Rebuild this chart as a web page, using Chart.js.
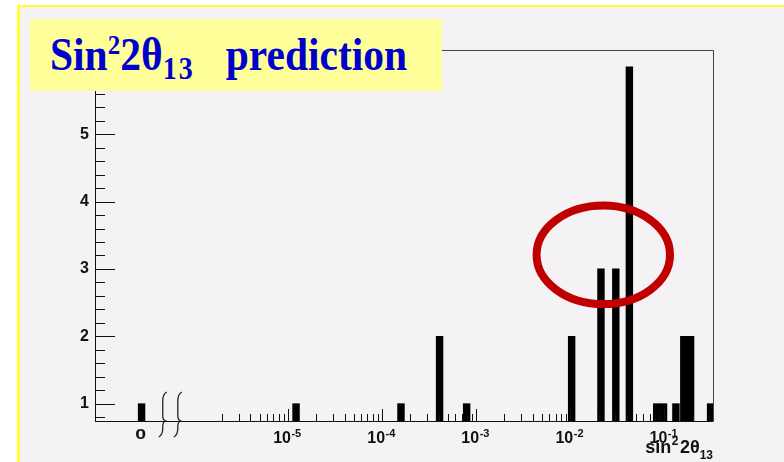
<!DOCTYPE html>
<html>
<head>
<meta charset="utf-8">
<script src="https://cdn.jsdelivr.net/npm/chart.js@4.4.1/dist/chart.umd.min.js"></script>
<style>
  html, body { margin: 0; padding: 0; background: #ffffff; }
  #sheet {
    position: absolute; left: 17px; top: 5px; width: 767px; height: 457px;
    border-left: 3px solid #ffff33; border-top: 2px solid #ffff33;
    background: #f5f2f5; box-sizing: border-box;
  }
  #plot { position: absolute; left: 0; top: 0; }
  #title {
    position: absolute; left: 30px; top: 19px; width: 412px; height: 72px;
    background: #ffff99;
  }
  #title .t {
    position: absolute; left: 20px; top: 17px; white-space: nowrap;
    font: bold 41.5px "Liberation Serif", "Times New Roman", serif;
    line-height: 41px; color: #0000cc;
    transform: scaleY(1.13); transform-origin: 0 34px;
  }
  #title sup { font-size: 25px; vertical-align: 14px; line-height: 0; }
  #title sub { font-size: 28px; vertical-align: -8px; line-height: 0; letter-spacing: 2px; }
</style>
</head>
<body>
<div id="sheet"></div>
<canvas id="plot" width="784" height="462"></canvas>
<div id="title"><span class="t">Sin<sup>2</sup>2θ<sub>13</sub>&nbsp;&nbsp;&nbsp;prediction</span></div>
<script>
// Predicted sin²2θ13 values, log-binned: bin centres and entries per bin
const binCenters = [1.22e-5, 1.59e-4, 4.09e-4, 7.93e-4, 0.01035, 0.0212, 0.0305, 0.0425,
                    0.083, 0.098, 0.1327, 0.161, 0.190, 0.31];
const binCounts  = [1, 1, 2, 1, 2, 3, 3, 6, 1, 1, 1, 2, 2, 1];
// Entries with sin²2θ13 exactly zero (shown left of the axis break)
const zeroCount = 1;

// Axis labelling
const yTickValues = [1, 2, 3, 4, 5, 6];
const decadeExponents = [-5, -4, -3, -2, -1];

// Axis layout (x axis is in log10 units)
const X_LOG_MIN = -7.05, X_LOG_MAX = -0.483;
const LOG_START = -5.9;          // where the logarithmic part of the axis begins
const ZERO_SLOT = -6.555;        // where the "0" bin sits
const BREAK_SLOTS = [-6.33, -6.17];
const Y_MIN = 0.743, Y_MAX = 6.25;

// Highlight ring around the 2–3 % region
const ring = { center: 0.02245, level: 3.21, halfDecades: 0.709, halfCounts: 0.732 };

const points = [{ x: ZERO_SLOT, y: zeroCount }].concat(
  binCenters.map((c, i) => ({ x: Math.log10(c), y: binCounts[i] }))
);

const FONT = '"Liberation Sans", Arial, Helvetica, sans-serif';

const axisDecor = {
  id: 'axisDecor',
  afterDatasetsDraw(chart) {
    const { ctx, chartArea: a, scales: { x, y } } = chart;
    ctx.save();

    // frame top and right
    ctx.strokeStyle = '#444';
    ctx.lineWidth = 1;
    ctx.beginPath();
    ctx.moveTo(a.left, a.top + 0.5);
    ctx.lineTo(a.right + 0.5, a.top + 0.5);
    ctx.lineTo(a.right + 0.5, a.bottom);
    ctx.stroke();

    // x axis line
    ctx.strokeStyle = '#111';
    ctx.beginPath();
    ctx.moveTo(a.left, a.bottom + 0.5);
    ctx.lineTo(a.right + 0.5, a.bottom + 0.5);
    ctx.stroke();

    // y ticks (inward), major every 1, minor every 0.2
    ctx.strokeStyle = '#111';
    ctx.beginPath();
    for (let k = Math.ceil(Y_MIN * 5); k <= Math.floor(Y_MAX * 5); k++) {
      const py = Math.round(y.getPixelForValue(k / 5)) + 0.5;
      const len = k % 5 === 0 ? 20 : 10;
      ctx.moveTo(a.left, py);
      ctx.lineTo(a.left + len, py);
    }
    ctx.stroke();

    // x ticks on the log part (upward)
    ctx.beginPath();
    for (let e = -7; e <= 0; e++) {
      for (let m = 1; m <= 9; m++) {
        const v = e + Math.log10(m);
        if (v < LOG_START || v > X_LOG_MAX) continue;
        const px = Math.round(x.getPixelForValue(v)) + 0.5;
        const len = m === 1 ? 12 : 7;
        ctx.moveTo(px, a.bottom);
        ctx.lineTo(px, a.bottom - len);
      }
    }
    ctx.stroke();

    // axis break marks
    ctx.strokeStyle = '#222';
    ctx.lineWidth = 1.3;
    BREAK_SLOTS.forEach(s => {
      const bx = x.getPixelForValue(s);
      const top = 392, bot = 437, mid = a.bottom;
      ctx.beginPath();
      ctx.moveTo(bx + 4, top);
      ctx.quadraticCurveTo(bx, top + 2, bx, top + 9);
      ctx.lineTo(bx, mid - 5);
      ctx.quadraticCurveTo(bx, mid - 1, bx + 3, mid);
      ctx.quadraticCurveTo(bx, mid + 1, bx, mid + 5);
      ctx.lineTo(bx, bot - 9);
      ctx.quadraticCurveTo(bx, bot - 2, bx - 4, bot);
      ctx.stroke();
    });

    // x tick labels: 10^n
    ctx.fillStyle = '#111';
    ctx.textBaseline = 'alphabetic';
    ctx.textAlign = 'left';
    decadeExponents.forEach(e => {
      const px = x.getPixelForValue(e);
      ctx.font = 'bold 16px ' + FONT;
      const wb = ctx.measureText('10').width;
      ctx.font = 'bold 11px ' + FONT;
      const sup = '-' + Math.abs(e);
      const ws = ctx.measureText(sup).width;
      const x0 = px - (wb + ws) / 2 - 1;
      ctx.font = 'bold 16px ' + FONT;
      ctx.fillText('10', x0, 443);
      ctx.font = 'bold 11px ' + FONT;
      ctx.fillText(sup, x0 + wb + 0.5, 436.5);
    });

    // "0" label for the zero bin (wide, squarish glyph)
    ctx.save();
    ctx.font = 'bold 15px ' + FONT;
    ctx.textAlign = 'center';
    ctx.translate(x.getPixelForValue(ZERO_SLOT) - 1, 438.5);
    ctx.scale(1.3, 1);
    ctx.fillText('0', 0, 0);
    ctx.restore();

    // axis title sin²2θ13, right-aligned at the axis end
    ctx.textAlign = 'left';
    const parts = [
      { t: 'sin', f: 18, dy: 452.5, gap: 0.5 },
      { t: '2', f: 12, dy: 445, gap: 1.5 },
      { t: '2θ', f: 18, dy: 452.5, gap: 0 },
      { t: '13', f: 12, dy: 459, gap: 0 }
    ];
    let total = 0;
    parts.forEach(p => { ctx.font = 'bold ' + p.f + 'px ' + FONT; p.w = ctx.measureText(p.t).width + p.gap; total += p.w; });
    let cx = a.right - total;
    parts.forEach(p => { ctx.font = 'bold ' + p.f + 'px ' + FONT; ctx.fillText(p.t, cx, p.dy); cx += p.w; });

    // highlight ring
    const ex = x.getPixelForValue(Math.log10(ring.center));
    const ey = y.getPixelForValue(ring.level);
    const rx = x.getPixelForValue(Math.log10(ring.center) + ring.halfDecades) - ex;
    const ry = ey - y.getPixelForValue(ring.level + ring.halfCounts);
    ctx.strokeStyle = '#c00000';
    ctx.lineWidth = 8;
    ctx.beginPath();
    ctx.ellipse(ex, ey, rx, ry, 0, 0, Math.PI * 2);
    ctx.stroke();

    ctx.restore();
  }
};

new Chart(document.getElementById('plot'), {
  type: 'bar',
  data: {
    datasets: [{
      data: points,
      backgroundColor: '#000000',
      borderWidth: 0,
      categoryPercentage: 1,
      barPercentage: 1,
      clip: 0
    }]
  },
  options: {
    responsive: false,
    animation: false,
    devicePixelRatio: 1,
    layout: { padding: { top: 50, right: 71, bottom: 41, left: 0 } },
    plugins: { legend: { display: false }, tooltip: { enabled: false } },
    scales: {
      x: {
        type: 'linear',
        min: X_LOG_MIN,
        max: X_LOG_MAX,
        offset: false,
        display: false,
        afterBuildTicks: s => { s.ticks = decadeExponents.map(v => ({ value: v })); }
      },
      y: {
        type: 'linear',
        min: Y_MIN,
        max: Y_MAX,
        afterBuildTicks: s => { s.ticks = yTickValues.map(v => ({ value: v })); },
        afterFit: s => { s.width = 95; },
        grid: { display: false, drawTicks: false },
        border: { display: true, color: '#111', width: 1 },
        ticks: {
          color: '#111',
          padding: 6,
          font: { family: FONT, size: 16, weight: 'bold' },
          callback: v => String(v)
        }
      }
    }
  },
  plugins: [axisDecor]
});
</script>
</body>
</html>
